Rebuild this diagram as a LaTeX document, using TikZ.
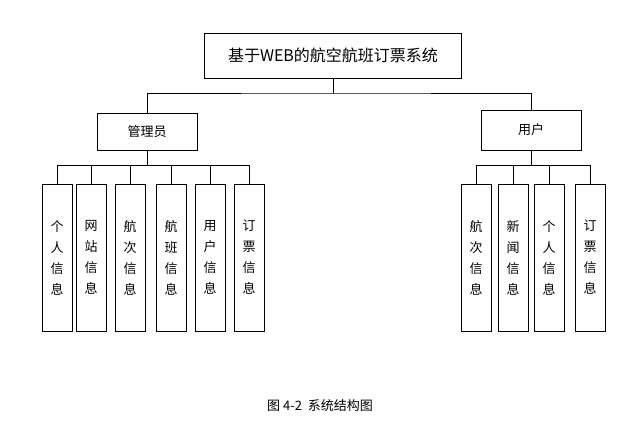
\documentclass[tikz,border=0pt]{standalone}
\usepackage{fontspec}
\newfontfamily\cjk{Noto Sans CJK SC}
\begin{document}
\begin{tikzpicture}[x=1pt,y=-1pt,
  box/.style={draw,thick,inner sep=0pt,font=\cjk},
  leaf/.style={box,minimum width=30pt,minimum height=147pt,font=\cjk\fontsize{13}{21}\selectfont,align=center},
  ln/.style={thick}]
\useasboundingbox (0,0) rectangle (638,434);
\node[box,minimum width=257pt,minimum height=45pt,font=\cjk\fontsize{16}{18}\selectfont] (top) at (333,55.5) {基于WEB的航空航班订票系统};
\node[box,minimum width=100pt,minimum height=37pt,font=\cjk\fontsize{13}{16}\selectfont] (adm) at (147,131.5) {管理员};
\node[box,minimum width=100pt,minimum height=40pt,font=\cjk\fontsize{13}{16}\selectfont] (usr) at (531,130) {用户};
\foreach \n/\x/\t in {a1/57/个\\人\\信\\息, a2/91/网\\站\\信\\息, a3/130/航\\次\\信\\息, a4/171/航\\班\\信\\息, a5/210/用\\户\\信\\息, a6/249/订\\票\\信\\息, u1/476/航\\次\\信\\息, u2/513/新\\闻\\信\\息, u3/549/个\\人\\信\\息, u4/590/订\\票\\信\\息}
  \node[leaf] (\n) at (\x,257.5) {\t};
\draw[ln] (top.south) -- (333,93) coordinate (h);
\draw[ln] (adm.north) |- (h) -| (usr.north);
\draw[ln] (adm.south) -- (147,165) coordinate (ha);
\foreach \n in {a1,a2,a3,a4,a5,a6} \draw[ln] (\n.north) |- (ha);
\draw[ln] (usr.south) -- (531,165) coordinate (hu);
\foreach \n in {u1,u2,u3,u4} \draw[ln] (\n.north) |- (hu);
\node[font=\cjk\fontsize{13}{15}\selectfont] (cap) at (320,406) {图 4-2\ \ 系统结构图};
\end{tikzpicture}
\end{document}
